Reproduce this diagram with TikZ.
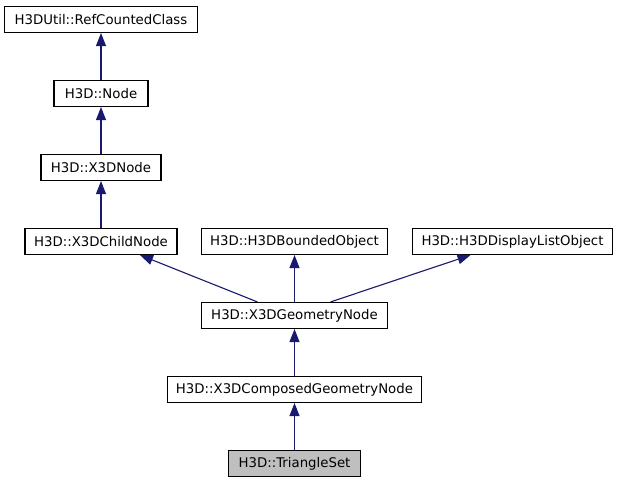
\documentclass[tikz,border=0pt]{standalone}
\usepackage{fontspec}
\setmainfont{DejaVu Sans}
\usetikzlibrary{calc}
\usetikzlibrary{arrows.meta}

\definecolor{edgeblue}{HTML}{191970}
\definecolor{leafgray}{HTML}{BFBFBF}

\begin{document}
\begin{tikzpicture}[x=1pt,y=-1pt,
  cls/.style={draw=black, line width=1.1pt, fill=white, minimum height=26pt, inner sep=0pt, font=\fontsize{13.3}{15}\selectfont},
  inh/.style={draw=edgeblue, line width=1.1pt, -{Triangle[length=13pt,width=10pt]}}]
\useasboundingbox (0,0) rectangle (617,485);

% upper chain
\node[cls, minimum width=193pt] (rc) at (101,19.5) {H3DUtil::RefCountedClass};
\node[cls, minimum width=94pt] (node) at (101,93.5) {H3D::Node};
\node[cls, minimum width=120pt] (x3d) at (101,167.5) {H3D::X3DNode};

% parents of the geometry node
\node[cls, minimum width=152pt] (child) at (101,241.5) {H3D::X3DChildNode};
\node[cls, minimum width=186pt] (bound) at (294.5,241.5) {H3D::H3DBoundedObject};
\node[cls, minimum width=200pt] (dlist) at (512.5,241.5) {H3D::H3DDisplayListObject};

% lower chain
\node[cls, minimum width=186pt] (geo) at (294.5,315.5) {H3D::X3DGeometryNode};
\node[cls, minimum width=254pt] (comp) at (294.5,389.5) {H3D::X3DComposedGeometryNode};
\node[cls, minimum width=132pt, fill=leafgray] (tri) at (294.5,463.5) {H3D::TriangleSet};

\draw[inh] (node.north) -- (rc.south);
\draw[inh] (x3d.north) -- (node.south);
\draw[inh] (child.north) -- (x3d.south);

\draw[inh] ($(geo.north)+(-37,0)$) -- ($(child.south)+(39,0)$);
\draw[inh] (geo.north) -- (bound.south);
\draw[inh] ($(geo.north)+(36,0)$) -- ($(dlist.south)+(-42,0)$);

\draw[inh] (comp.north) -- (geo.south);
\draw[inh] (tri.north) -- (comp.south);

\end{tikzpicture}
\end{document}
